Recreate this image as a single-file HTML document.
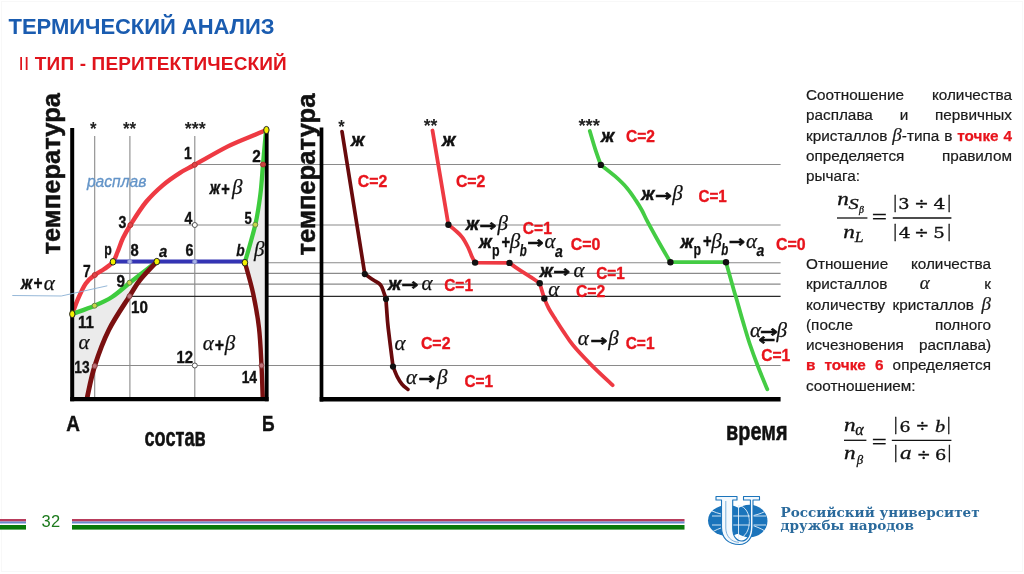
<!DOCTYPE html>
<html lang="ru">
<head>
<meta charset="utf-8">
<title>Термический анализ</title>
<style>
html,body{margin:0;padding:0;background:#fff;}
body{width:1024px;height:574px;position:relative;overflow:hidden;font-family:"Liberation Sans","DejaVu Sans",sans-serif;}
#slide{position:absolute;left:0;top:0;width:1024px;height:574px;}
svg text{font-family:"Liberation Sans","DejaVu Sans",sans-serif;}

svg .ax{font-size:25.5px;font-weight:bold;fill:#111;stroke:#111;stroke-width:0.5px;}
svg .st{font-size:18.8px;font-weight:bold;fill:#222;}
svg .rasp{font-size:16px;font-style:italic;fill:#6394c8;stroke:#6394c8;stroke-width:0.3px;}
svg .n{font-size:16.5px;font-weight:bold;fill:#111;stroke:#111;stroke-width:0.35px;}
svg .nbi{font-size:16.2px;font-weight:bold;font-style:italic;fill:#111;stroke:#111;stroke-width:0.3px;}
svg .bi{font-size:17.5px;font-weight:bold;font-style:italic;fill:#111;stroke:#111;stroke-width:0.45px;}
svg .gi{font-family:"Liberation Serif","DejaVu Serif",serif;font-size:21px;font-style:italic;font-weight:normal;fill:#111;stroke:#111;stroke-width:0.25px;}
svg .arr{font-family:"DejaVu Sans","Liberation Sans",sans-serif;font-style:normal;font-weight:bold;font-size:16px;fill:#111;stroke:#111;stroke-width:0.6px;}
svg .arr2{font-family:"DejaVu Sans",sans-serif;font-style:normal;font-weight:bold;font-size:21px;fill:#111;}
svg .sub{font-size:17px;font-style:normal;font-weight:bold;fill:#111;stroke:#111;stroke-width:0.25px;}
svg .subi{font-size:16px;font-style:italic;font-weight:bold;fill:#111;stroke:#111;stroke-width:0.25px;}
svg .c{font-size:16.3px;font-weight:bold;fill:#e8141c;stroke:#e8141c;stroke-width:0.35px;}
svg .big{font-size:21.5px;font-weight:bold;fill:#111;stroke:#111;stroke-width:0.4px;}
svg .sost{font-size:25.5px;font-weight:bold;fill:#111;stroke:#111;stroke-width:0.5px;}
svg .fi{font-family:"Liberation Serif","DejaVu Serif",serif;font-style:italic;fill:#111;}
svg .fr{font-family:"Liberation Serif","DejaVu Serif",serif;fill:#111;}
.t1{position:absolute;left:8.6px;top:15.5px;font-size:22px;line-height:22px;font-weight:bold;color:#1a5cb0;white-space:nowrap;letter-spacing:-0.05px;}
.t2{position:absolute;left:18.5px;top:54px;font-size:19px;line-height:19px;font-weight:bold;color:#e0141c;white-space:nowrap;letter-spacing:0.16px;}
.t2 span{font-weight:normal;}
.rt{position:absolute;left:806px;width:185px;font-size:15.3px;line-height:20.3px;color:#1a1a1a;text-align:justify;-webkit-text-stroke:0.2px #1a1a1a;}
.rt b{color:#e8141c;-webkit-text-stroke:0.25px #e8141c;}
.rt i{font-family:"Liberation Serif","DejaVu Serif",serif;font-size:19px;line-height:10px;-webkit-text-stroke:0.2px #1a1a1a;}
.ln{height:20.3px;white-space:nowrap;text-align:justify;text-align-last:justify;}
.ln.last{text-align-last:left;}
.ru{position:absolute;left:780.5px;top:506.2px;font-family:"DejaVu Serif","Liberation Serif",serif;font-weight:bold;font-size:13.6px;line-height:13.2px;color:#2a6a9c;white-space:nowrap;}
.pg{position:absolute;left:41.5px;top:511.7px;font-size:16.5px;line-height:19px;letter-spacing:0.3px;color:#1d7a1d;}
</style>
</head>
<body>
<div id="slide">
<div id="frame" style="position:absolute;left:1px;top:1px;width:1020px;height:569px;border:1px solid #f8f8f8;"></div>
<svg id="art" width="1024" height="574" viewBox="0 0 1024 574" style="position:absolute;left:0;top:0">
<!-- GRID -->
<g id="grid" stroke="#8a8a8a" stroke-width="1.1" fill="none">
<line x1="94.7" y1="136" x2="94.7" y2="398"/>
<line x1="129.9" y1="136" x2="129.9" y2="398"/>
<line x1="194.8" y1="136" x2="194.8" y2="398"/>
<line x1="194" y1="164.5" x2="780.6" y2="164.5"/>
<line x1="130" y1="225.0" x2="780.6" y2="225.0"/>
<line x1="113" y1="262.8" x2="780.6" y2="262.8"/>
<line x1="95" y1="273.4" x2="780.6" y2="273.4"/>
<line x1="130" y1="284.1" x2="780.6" y2="284.1"/>
<line x1="130" y1="296.4" x2="780.6" y2="296.4" stroke="#2a2a2a" stroke-width="1.3"/>
<line x1="95" y1="365.5" x2="780.6" y2="365.5"/>
</g>
<!-- LEFT DIAGRAM -->
<g id="phase" fill="none" stroke-linecap="round" stroke-linejoin="round">
<path d="M72.3 314.0 C76.0 312.6 88.0 308.5 94.6 305.7 C101.2 302.9 106.2 300.8 112.0 297.0 C117.8 293.2 124.8 286.7 129.5 283.0 C134.2 279.3 135.4 278.4 140.0 274.8 C144.6 271.2 154.0 263.8 156.8 261.6 C154.0 264.7 144.6 274.2 140.0 280.0 C135.4 285.8 134.7 287.9 129.5 296.2 C124.3 304.5 114.6 318.4 108.8 330.0 C103.0 341.6 98.3 354.8 94.7 366.0 C91.1 377.2 88.5 391.8 87.3 397.0 L72.3 397.5 Z" fill="#ebebeb" stroke="none"/>
<path d="M266.0 131.0 C265.5 136.6 263.9 153.8 263.0 164.5 C262.1 175.2 261.6 185.0 260.3 195.0 C259.0 205.0 257.9 213.4 255.3 224.7 C252.7 235.9 246.6 256.2 244.9 262.5 C246.3 267.7 250.8 282.8 253.2 293.7 C255.5 304.6 257.6 316.0 259.0 328.0 C260.4 340.0 260.9 354.0 261.5 365.5 C262.1 377.0 262.5 391.8 262.7 397.0 L266.7 397.5 L266.7 131 Z" fill="#ebebeb" stroke="none"/>
<path d="M72.3 314.0 C73.2 311.5 75.8 303.9 78.0 298.8 C80.2 293.7 83.0 287.4 85.8 283.4 C88.6 279.4 91.7 277.4 94.8 275.0 C97.9 272.6 101.6 271.0 104.6 268.8 C107.6 266.6 110.8 264.6 113.0 261.8 C115.2 259.0 115.8 256.0 117.5 252.0 C119.2 248.0 120.8 242.5 123.0 238.0 C125.2 233.5 126.6 231.0 130.4 225.0 C134.2 219.0 140.6 208.6 146.0 202.0 C151.4 195.4 157.0 190.2 162.7 185.3 C168.4 180.4 174.7 176.2 180.0 172.8 C185.3 169.4 186.7 169.2 194.7 164.8 C202.7 160.4 217.7 151.5 227.9 146.4 C238.1 141.3 249.4 137.2 255.7 134.5 C262.0 131.8 263.9 131.2 265.5 130.5" stroke="#ee3a43" stroke-width="4.4"/>
<path d="M266.0 131.0 C265.5 136.6 263.9 153.8 263.0 164.5 C262.1 175.2 261.6 185.0 260.3 195.0 C259.0 205.0 257.9 213.4 255.3 224.7 C252.7 235.9 246.6 256.2 244.9 262.5" stroke="#3dcc3d" stroke-width="4.3"/>
<path d="M72.3 314.0 C76.0 312.6 88.0 308.5 94.6 305.7 C101.2 302.9 106.2 300.8 112.0 297.0 C117.8 293.2 124.8 286.7 129.5 283.0 C134.2 279.3 135.4 278.4 140.0 274.8 C144.6 271.2 154.0 263.8 156.8 261.6" stroke="#3dcc3d" stroke-width="4.4"/>
<path d="M113 261.6 L244.9 261.6" stroke="#3434b4" stroke-width="4"/>
<path d="M156.8 261.6 C154.0 264.7 144.6 274.2 140.0 280.0 C135.4 285.8 134.7 287.9 129.5 296.2 C124.3 304.5 114.6 318.4 108.8 330.0 C103.0 341.6 98.3 354.8 94.7 366.0 C91.1 377.2 88.5 391.8 87.3 397.0" stroke="#7a1010" stroke-width="4.8"/>
<path d="M244.9 262.5 C246.3 267.7 250.8 282.8 253.2 293.7 C255.5 304.6 257.6 316.0 259.0 328.0 C260.4 340.0 260.9 354.0 261.5 365.5 C262.1 377.0 262.5 391.8 262.7 397.0" stroke="#7a1010" stroke-width="4.4"/>
</g>
<g id="axesL" stroke="#000" fill="none">
<line x1="72.2" y1="128" x2="72.2" y2="401.3" stroke-width="4"/>
<line x1="70.2" y1="399.2" x2="268.6" y2="399.2" stroke-width="4.2"/>
<line x1="266.7" y1="130" x2="266.7" y2="401.3" stroke-width="3.8"/>
</g>
<g id="ptsL" stroke="#222" stroke-width="1">
<ellipse cx="266.4" cy="130" rx="2.7" ry="3.6" fill="#f2f000"/>
<ellipse cx="113" cy="261.8" rx="2.8" ry="3.3" fill="#f2f000"/>
<ellipse cx="156.8" cy="261.6" rx="2.8" ry="3.3" fill="#f2f000"/>
<ellipse cx="244.9" cy="262.7" rx="2.8" ry="3.3" fill="#f2f000"/>
<ellipse cx="72.3" cy="314.1" rx="2.7" ry="3.5" fill="#f2f000"/>
<circle cx="194.7" cy="164.8" r="2.5" fill="#e0454a" stroke="#b33"/>
<circle cx="263" cy="164.5" r="2.5" fill="#c8443c" stroke="#a33"/>
<circle cx="130.4" cy="225" r="2.5" fill="#e0454a" stroke="#b33"/>
<circle cx="194.8" cy="225" r="2.5" fill="#fff" stroke="#555"/>
<circle cx="255.3" cy="224.7" r="2.5" fill="#c4d84a" stroke="#684"/>
<circle cx="129.8" cy="261.7" r="2.2" fill="#aab4e8" stroke="#8890c8"/>
<circle cx="194.8" cy="261.7" r="2.2" fill="#aab4e8" stroke="#8890c8"/>
<circle cx="94.8" cy="275" r="2.5" fill="#e0454a" stroke="#b33"/>
<circle cx="129.5" cy="282.7" r="2.5" fill="#c4d84a" stroke="#684"/>
<circle cx="129.5" cy="296.2" r="2.5" fill="#c07078" stroke="#844"/>
<circle cx="94.6" cy="305.7" r="2.5" fill="#c4d84a" stroke="#684"/>
<circle cx="94.7" cy="366" r="2.5" fill="#c07078" stroke="#844"/>
<circle cx="194.8" cy="365.5" r="2.5" fill="#fff" stroke="#555"/>
<circle cx="261.5" cy="365.5" r="2.5" fill="#c07078" stroke="#844"/>
</g>
<!-- RIGHT CHART -->
<g id="axesR" stroke="#000" fill="none">
<line x1="321.5" y1="127.5" x2="321.5" y2="401.5" stroke-width="3.7"/>
<line x1="319.7" y1="399.2" x2="780.6" y2="399.2" stroke-width="4.6"/>
</g>
<g id="curves" fill="none" stroke-linecap="round" stroke-linejoin="round">
<path d="M342 131.5 L364.8 274.1 C366.2 275.1 370.8 278.2 373.4 280.0 C376.0 281.8 378.7 282.8 380.4 284.8 C382.1 286.8 382.7 289.4 383.6 291.8 C384.5 294.2 385.6 297.8 386.0 299.0 C386.1 300.6 386.2 303.7 386.6 308.5 C387.0 313.3 387.1 318.3 388.2 328.0 C389.3 337.7 392.2 360.1 393.0 366.5 C393.7 368.2 395.7 373.7 397.2 376.6 C398.7 379.6 400.2 382.1 402.0 384.2 C403.8 386.3 406.9 388.5 407.9 389.4" stroke="#680a0c" stroke-width="3.7"/>
<path d="M432.5 130.5 L448.4 224.8 C449.5 225.7 453.0 228.2 455.3 230.3 C457.6 232.4 460.2 234.5 462.3 237.3 C464.4 240.1 466.3 243.8 467.9 247.0 C469.5 250.2 470.8 254.2 472.0 256.8 C473.2 259.4 474.6 261.6 475.1 262.6 L509.5 262.9 C511.4 264.2 517.1 268.4 520.9 270.9 C524.6 273.4 528.9 275.8 532.0 277.9 C535.1 279.9 538.4 282.3 539.7 283.2 L544.3 298.5 C545.0 300.2 546.9 305.0 548.8 308.5 C550.7 312.0 553.3 315.9 555.7 319.7 C558.1 323.5 560.2 326.9 563.1 331.1 C566.0 335.3 568.2 339.4 572.9 345.0 C577.5 350.6 584.4 357.9 591.0 364.6 C597.6 371.3 609.0 381.8 612.6 385.2" stroke="#ee3a43" stroke-width="3.8"/>
<path d="M589.8 131.0 C590.7 133.9 593.2 142.7 595.0 148.3 C596.8 154.0 599.8 162.1 600.8 164.9 C603.2 166.8 610.6 172.3 615.0 176.2 C619.4 180.1 623.8 184.3 627.3 188.4 C630.8 192.5 633.5 196.9 636.0 200.6 C638.5 204.3 640.1 207.0 642.0 210.5 C643.9 214.0 644.8 216.4 647.4 221.4 C650.0 226.4 654.1 233.7 657.9 240.5 C661.7 247.3 668.3 258.6 670.4 262.2 L726 262.2 C727.3 266.8 732.0 283.7 733.8 290.0 C735.6 296.3 735.3 294.8 736.8 300.0 C738.3 305.2 740.7 314.1 742.9 321.4 C745.1 328.7 747.3 336.6 749.8 344.0 C752.3 351.4 754.8 358.2 757.7 365.8 C760.6 373.4 765.7 385.4 767.3 389.3" stroke="#44cc44" stroke-width="3.8"/>
</g>
<g id="ptsR" fill="#111" stroke="none">
<circle cx="364.8" cy="274.1" r="3.1"/><circle cx="386" cy="299" r="3.1"/><circle cx="393" cy="366.5" r="3.1"/>
<circle cx="448.4" cy="224.8" r="3.2"/><circle cx="475.1" cy="262.6" r="3.2"/><circle cx="509.5" cy="262.9" r="3.2"/><circle cx="539.7" cy="283.2" r="3.2"/><circle cx="544.3" cy="298.5" r="3.2"/>
<circle cx="600.8" cy="164.9" r="3.2"/><circle cx="670.4" cy="262.2" r="3.2"/><circle cx="726" cy="262.2" r="3.2"/>
</g>
<!-- LABELS LEFT -->
<g id="lblL">
<text class="ax" transform="translate(60.3,254.5) rotate(-90)" textLength="161.5" lengthAdjust="spacingAndGlyphs">температура</text>
<text class="ax" transform="translate(315.4,255.5) rotate(-90)" textLength="162" lengthAdjust="spacingAndGlyphs">температура</text>
<text x="89.95" y="135.20" class="st" textLength="6.57" lengthAdjust="spacingAndGlyphs">*</text>
<text x="122.95" y="135.20" class="st" textLength="13.27" lengthAdjust="spacingAndGlyphs">**</text>
<text x="184.75" y="135.20" class="st" textLength="20.97" lengthAdjust="spacingAndGlyphs">***</text>
<text x="86.89" y="187.00" class="rasp" textLength="59.58" lengthAdjust="spacingAndGlyphs">расплав</text>
<text x="183.92" y="158.80" class="n" textLength="7.77" lengthAdjust="spacingAndGlyphs">1</text>
<text x="252.27" y="161.70" class="n" textLength="8.55" lengthAdjust="spacingAndGlyphs">2</text>
<text x="118.48" y="227.60" class="n" textLength="7.83" lengthAdjust="spacingAndGlyphs">3</text>
<text x="184.49" y="224.00" class="n" textLength="7.79" lengthAdjust="spacingAndGlyphs">4</text>
<text x="244.40" y="224.20" class="n" textLength="7.27" lengthAdjust="spacingAndGlyphs">5</text>
<text x="185.48" y="256.40" class="n" textLength="7.94" lengthAdjust="spacingAndGlyphs">6</text>
<text x="83.10" y="276.50" class="n" textLength="7.70" lengthAdjust="spacingAndGlyphs">7</text>
<text x="130.43" y="256.40" class="n" textLength="8.22" lengthAdjust="spacingAndGlyphs">8</text>
<text x="116.47" y="287.00" class="n" textLength="8.50" lengthAdjust="spacingAndGlyphs">9</text>
<text x="131.04" y="313.20" class="n" textLength="16.88" lengthAdjust="spacingAndGlyphs">10</text>
<text x="77.90" y="327.80" class="n" textLength="15.90" lengthAdjust="spacingAndGlyphs">11</text>
<text x="176.56" y="362.70" class="n" textLength="16.53" lengthAdjust="spacingAndGlyphs">12</text>
<text x="74.34" y="372.80" class="n" textLength="15.26" lengthAdjust="spacingAndGlyphs">13</text>
<text x="241.63" y="383.00" class="n" textLength="15.45" lengthAdjust="spacingAndGlyphs">14</text>
<text x="104.19" y="255.10" class="n" textLength="7.52" lengthAdjust="spacingAndGlyphs">p</text>
<text x="158.93" y="256.60" class="nbi" textLength="8.31" lengthAdjust="spacingAndGlyphs">a</text>
<text x="236.26" y="256.00" class="nbi" textLength="8.43" lengthAdjust="spacingAndGlyphs">b</text>
<text x="254.04" y="256.00" class="gi">β</text>
<text x="78.57" y="348.60" class="gi">α</text>
<text x="209.83" y="194.30" class="bi" textLength="10.29" lengthAdjust="spacingAndGlyphs">ж</text>
<text x="221.01" y="194.80" class="bi" textLength="8.50" lengthAdjust="spacingAndGlyphs">+</text>
<text x="231.94" y="194.30" class="gi">β</text>
<text x="202.67" y="350.00" class="gi">α</text>
<text x="214.54" y="351.30" class="bi" textLength="9.20" lengthAdjust="spacingAndGlyphs">+</text>
<text x="224.74" y="350.00" class="gi">β</text>
<text x="20.89" y="288.60" class="bi" textLength="11.27" lengthAdjust="spacingAndGlyphs">ж</text>
<text x="33.16" y="289.30" class="bi" textLength="8.97" lengthAdjust="spacingAndGlyphs">+</text>
<text x="43.66" y="289.50" class="gi">α</text>
<polyline points="12.3,295.5 61.3,296 107.3,285.8" fill="none" stroke="#8ab0d4" stroke-width="0.9"/>
<text x="66.13" y="431.00" class="big" textLength="13.67" lengthAdjust="spacingAndGlyphs">А</text>
<text x="262.03" y="431.00" class="big" textLength="12.60" lengthAdjust="spacingAndGlyphs">Б</text>
<text x="144.49" y="446.40" class="sost" textLength="61.21" lengthAdjust="spacingAndGlyphs">состав</text>
</g>
<!-- LABELS RIGHT -->
<g id="lblR">
<text x="338.15" y="132.60" class="st" textLength="6.46" lengthAdjust="spacingAndGlyphs">*</text>
<text x="423.65" y="132.00" class="st" textLength="13.77" lengthAdjust="spacingAndGlyphs">**</text>
<text x="578.45" y="131.60" class="st" textLength="21.57" lengthAdjust="spacingAndGlyphs">***</text>
<text x="351.0" y="146.0" class="bi" textLength="13.5" lengthAdjust="spacingAndGlyphs">ж</text>
<text x="442.0" y="146.0" class="bi" textLength="13.5" lengthAdjust="spacingAndGlyphs">ж</text>
<text x="601.0" y="142.2" class="bi" textLength="13.3" lengthAdjust="spacingAndGlyphs">ж</text>
<text x="357.8" y="186.8" class="c" textLength="29.5" lengthAdjust="spacingAndGlyphs">C=2</text>
<text x="455.9" y="186.8" class="c" textLength="29.5" lengthAdjust="spacingAndGlyphs">C=2</text>
<text x="522.8" y="234.0" class="c" textLength="29" lengthAdjust="spacingAndGlyphs">C=1</text>
<text x="570.7" y="249.7" class="c" textLength="29.7" lengthAdjust="spacingAndGlyphs">C=0</text>
<text x="596.3" y="279.0" class="c" textLength="28.5" lengthAdjust="spacingAndGlyphs">C=1</text>
<text x="576.0" y="297.0" class="c" textLength="29.3" lengthAdjust="spacingAndGlyphs">C=2</text>
<text x="625.7" y="348.6" class="c" textLength="28.8" lengthAdjust="spacingAndGlyphs">C=1</text>
<text x="444.2" y="291.4" class="c" textLength="28.8" lengthAdjust="spacingAndGlyphs">C=1</text>
<text x="420.9" y="349.0" class="c" textLength="29.6" lengthAdjust="spacingAndGlyphs">C=2</text>
<text x="464.5" y="387.0" class="c" textLength="28.6" lengthAdjust="spacingAndGlyphs">C=1</text>
<text x="626.0" y="142.2" class="c" textLength="29" lengthAdjust="spacingAndGlyphs">C=2</text>
<text x="698.5" y="202.2" class="c" textLength="28.3" lengthAdjust="spacingAndGlyphs">C=1</text>
<text x="776.0" y="250.2" class="c" textLength="29.6" lengthAdjust="spacingAndGlyphs">C=0</text>
<text x="761.2" y="360.6" class="c" textLength="29" lengthAdjust="spacingAndGlyphs">C=1</text>
<text x="465.8" y="230.3" class="bi" textLength="13.2" lengthAdjust="spacingAndGlyphs">ж</text>
<text x="479.4" y="231.1" class="arr" textLength="16.83" lengthAdjust="spacingAndGlyphs">→</text>
<text x="497.5" y="230.3" class="gi">β</text>
<text x="539.7" y="276.5" class="bi" textLength="13.2" lengthAdjust="spacingAndGlyphs">ж</text>
<text x="553.3" y="277.3" class="arr" textLength="16.83" lengthAdjust="spacingAndGlyphs">→</text>
<text x="573.5" y="276.5" class="gi">α</text>
<text x="388.0" y="289.5" class="bi" textLength="13.2" lengthAdjust="spacingAndGlyphs">ж</text>
<text x="401.6" y="290.3" class="arr" textLength="16.83" lengthAdjust="spacingAndGlyphs">→</text>
<text x="421.5" y="289.5" class="gi">α</text>
<text x="641.3" y="199.8" class="bi" textLength="13.2" lengthAdjust="spacingAndGlyphs">ж</text>
<text x="654.9" y="200.6" class="arr" textLength="16.83" lengthAdjust="spacingAndGlyphs">→</text>
<text x="672.2" y="199.8" class="gi">β</text>
<text x="577.8" y="345.0" class="gi">α</text>
<text x="590.5" y="345.8" class="arr" textLength="16.83" lengthAdjust="spacingAndGlyphs">→</text>
<text x="608.3" y="345.0" class="gi">β</text>
<text x="405.9" y="383.5" class="gi">α</text>
<text x="418.6" y="384.3" class="arr" textLength="16.83" lengthAdjust="spacingAndGlyphs">→</text>
<text x="436.9" y="383.5" class="gi">β</text>
<text x="548.2" y="296.0" class="gi">α</text>
<text x="394.6" y="349.8" class="gi">α</text>
<text x="479.0" y="248.4" class="bi" textLength="12.8" lengthAdjust="spacingAndGlyphs">ж</text>
<text x="492.1" y="255.7" class="sub" textLength="7.6" lengthAdjust="spacingAndGlyphs">р</text>
<text x="501.3" y="247.9" class="bi" textLength="8.6" lengthAdjust="spacingAndGlyphs">+</text>
<text x="509.8" y="248.4" class="gi">β</text>
<text x="519.8" y="255.7" class="subi" textLength="7" lengthAdjust="spacingAndGlyphs">b</text>
<text x="527.2" y="248.2" class="arr" textLength="16.26" lengthAdjust="spacingAndGlyphs">→</text>
<text x="544.4" y="248.4" class="gi">α</text>
<text x="555.0" y="256.7" class="subi" textLength="7.8" lengthAdjust="spacingAndGlyphs">a</text>
<text x="680.5" y="247.6" class="bi" textLength="12.8" lengthAdjust="spacingAndGlyphs">ж</text>
<text x="693.6" y="254.9" class="sub" textLength="7.6" lengthAdjust="spacingAndGlyphs">р</text>
<text x="702.8" y="247.1" class="bi" textLength="8.6" lengthAdjust="spacingAndGlyphs">+</text>
<text x="711.3" y="247.6" class="gi">β</text>
<text x="721.3" y="254.9" class="subi" textLength="7" lengthAdjust="spacingAndGlyphs">b</text>
<text x="728.7" y="247.4" class="arr" textLength="16.26" lengthAdjust="spacingAndGlyphs">→</text>
<text x="745.9" y="247.6" class="gi">α</text>
<text x="756.5" y="255.9" class="subi" textLength="7.8" lengthAdjust="spacingAndGlyphs">a</text>
<text x="750.1" y="337.0" class="gi">α</text>
<text x="760.0" y="336.8" class="arr" textLength="17.86" lengthAdjust="spacingAndGlyphs">→</text>

<text x="758.3" y="344.7" class="arr" textLength="16.89" lengthAdjust="spacingAndGlyphs">←</text>
<text x="776.4" y="337.0" class="gi">β</text>
<text x="726.12" y="440.20" class="sost" textLength="61.36" lengthAdjust="spacingAndGlyphs">время</text>
</g>
<!-- FORMULAS -->
<g id="formulas" fill="#111" stroke="#111" stroke-width="0.3">
<text x="837.17" y="205.40" style='font-family:"Liberation Serif","DejaVu Serif",serif;font-style:italic;font-size:18.7px;' textLength="11.59" lengthAdjust="spacingAndGlyphs">n</text>
<text x="848.56" y="209.30" style='font-family:"Liberation Serif","DejaVu Serif",serif;font-style:italic;font-size:14.6px;' textLength="10.17" lengthAdjust="spacingAndGlyphs">S</text>
<text x="858.96" y="213.10" style='font-family:"Liberation Serif","DejaVu Serif",serif;font-style:italic;font-size:9.8px;'>β</text>
<line x1="837" y1="218" x2="867.4" y2="218" stroke-width="1.3"/>
<text x="843.17" y="237.60" style='font-family:"Liberation Serif","DejaVu Serif",serif;font-style:italic;font-size:18.7px;' textLength="11.59" lengthAdjust="spacingAndGlyphs">n</text>
<text x="854.88" y="242.10" style='font-family:"Liberation Serif","DejaVu Serif",serif;font-style:italic;font-size:14.9px;' textLength="8.76" lengthAdjust="spacingAndGlyphs">L</text>
<text x="871.85" y="224.30" style='font-family:"Liberation Serif","DejaVu Serif",serif;font-size:22px;' textLength="15.27" lengthAdjust="spacingAndGlyphs">=</text>
<line x1="892.8" y1="218" x2="951.4" y2="218" stroke-width="1.3"/>
<text x="893.25" y="208.00" style='font-family:"Liberation Serif","DejaVu Serif",serif;font-size:19.3px;'>|</text>
<text x="947.35" y="208.00" style='font-family:"Liberation Serif","DejaVu Serif",serif;font-size:19.3px;'>|</text>
<text x="898.25" y="209.30" style='font-family:"DejaVu Serif","Liberation Serif",serif;font-size:14.4px;' textLength="11.26" lengthAdjust="spacingAndGlyphs">3</text>
<text x="914.37" y="209.40" style='font-family:"DejaVu Serif","Liberation Serif",serif;font-size:16px;' textLength="14.46" lengthAdjust="spacingAndGlyphs">÷</text>
<text x="933.42" y="209.30" style='font-family:"DejaVu Serif","Liberation Serif",serif;font-size:14.4px;' textLength="11.92" lengthAdjust="spacingAndGlyphs">4</text>
<text x="893.25" y="236.80" style='font-family:"Liberation Serif","DejaVu Serif",serif;font-size:19.3px;'>|</text>
<text x="947.35" y="236.80" style='font-family:"Liberation Serif","DejaVu Serif",serif;font-size:19.3px;'>|</text>
<text x="898.82" y="237.60" style='font-family:"DejaVu Serif","Liberation Serif",serif;font-size:14.4px;' textLength="11.92" lengthAdjust="spacingAndGlyphs">4</text>
<text x="914.37" y="237.70" style='font-family:"DejaVu Serif","Liberation Serif",serif;font-size:16px;' textLength="14.46" lengthAdjust="spacingAndGlyphs">÷</text>
<text x="933.26" y="237.60" style='font-family:"DejaVu Serif","Liberation Serif",serif;font-size:14.4px;' textLength="11.54" lengthAdjust="spacingAndGlyphs">5</text>
<text x="844.07" y="431.10" style='font-family:"Liberation Serif","DejaVu Serif",serif;font-style:italic;font-size:18.7px;' textLength="11.59" lengthAdjust="spacingAndGlyphs">n</text>
<text x="855.22" y="434.80" style='font-family:"Liberation Serif","DejaVu Serif",serif;font-style:italic;font-size:16px;'>α</text>
<line x1="844" y1="440.3" x2="866.4" y2="440.3" stroke-width="1.3"/>
<text x="844.07" y="458.50" style='font-family:"Liberation Serif","DejaVu Serif",serif;font-style:italic;font-size:18.7px;' textLength="11.59" lengthAdjust="spacingAndGlyphs">n</text>
<text x="856.81" y="463.60" style='font-family:"Liberation Serif","DejaVu Serif",serif;font-style:italic;font-size:12.8px;'>β</text>
<text x="871.87" y="448.60" style='font-family:"Liberation Serif","DejaVu Serif",serif;font-size:22px;' textLength="15.03" lengthAdjust="spacingAndGlyphs">=</text>
<line x1="891.8" y1="440.3" x2="951.4" y2="440.3" stroke-width="1.3"/>
<text x="893.75" y="429.80" style='font-family:"Liberation Serif","DejaVu Serif",serif;font-size:19.3px;'>|</text>
<text x="946.85" y="429.80" style='font-family:"Liberation Serif","DejaVu Serif",serif;font-size:19.3px;'>|</text>
<text x="899.44" y="431.50" style='font-family:"DejaVu Serif","Liberation Serif",serif;font-size:14.4px;' textLength="11.06" lengthAdjust="spacingAndGlyphs">6</text>
<text x="915.47" y="431.30" style='font-family:"DejaVu Serif","Liberation Serif",serif;font-size:16px;' textLength="13.65" lengthAdjust="spacingAndGlyphs">÷</text>
<text x="934.95" y="431.50" style='font-family:"Liberation Serif","DejaVu Serif",serif;font-style:italic;font-size:17.2px;' textLength="10.17" lengthAdjust="spacingAndGlyphs">b</text>
<text x="893.75" y="458.20" style='font-family:"Liberation Serif","DejaVu Serif",serif;font-size:19.3px;'>|</text>
<text x="947.45" y="458.20" style='font-family:"Liberation Serif","DejaVu Serif",serif;font-size:19.3px;'>|</text>
<text x="899.91" y="459.30" style='font-family:"Liberation Serif","DejaVu Serif",serif;font-style:italic;font-size:19px;' textLength="11.56" lengthAdjust="spacingAndGlyphs">a</text>
<text x="916.84" y="459.60" style='font-family:"DejaVu Serif","Liberation Serif",serif;font-size:16px;' textLength="13.92" lengthAdjust="spacingAndGlyphs">÷</text>
<text x="935.11" y="459.50" style='font-family:"DejaVu Serif","Liberation Serif",serif;font-size:14.4px;' textLength="11.31" lengthAdjust="spacingAndGlyphs">6</text>
</g>
<!-- LOGO -->
<g id="logo">
<ellipse cx="727.5" cy="520.5" rx="19.5" ry="15.5" fill="#1b74bb"/>
<ellipse cx="749.5" cy="521" rx="18" ry="16.2" fill="#1b74bb"/>
<g stroke="#e8f2fa" stroke-width="0.9" fill="none">
<path d="M712 516 H766"/><path d="M712 525 H766"/>
<path d="M738.5 505 V539"/>
<path d="M738.5 505.5 C753 507 753 536 738.5 538.5"/>
<path d="M712 511 C718 513.5 724 515 731 516"/><path d="M713 531.5 C719 528.5 724 526.5 731 525"/>
<path d="M765 511.5 C760 514 756 515 751 516"/><path d="M765 531 C760 528 756 526.5 751 525"/>
</g>
<path d="M716 496.5 H737 V500 H732.7 V528 C732.7 536.5 736.5 541 741.5 541 C746.5 541 750.4 536 750.4 527 V500 H743.5 V496.5 H759.5 V500 H753 V527 C753 538 747 544.5 739.5 544.5 C728 544.5 721.5 538 721.5 527 V500 H716 Z" fill="#f4f9fd" stroke="#1b74bb" stroke-width="1.1" stroke-linejoin="round"/>
<path d="M725.8 501 V528 C725.8 536 731 542 739 542.3" fill="none" stroke="#4a90cc" stroke-width="0.7"/>
</g>
<!-- FOOTER -->
<g id="footer">
<rect x="0" y="519" width="26" height="2.5" fill="#b83c5c"/><rect x="0" y="521.5" width="26" height="2" fill="#6a8ccc"/><rect x="0" y="525" width="26" height="4.6" fill="#0a7a0a"/>
<rect x="72" y="519" width="612.5" height="2.5" fill="#b83c5c"/><rect x="72" y="521.5" width="612.5" height="2" fill="#6a8ccc"/><rect x="72" y="525" width="612.5" height="4.6" fill="#0a7a0a"/>
</g>
</svg>
<div class="t1">ТЕРМИЧЕСКИЙ АНАЛИЗ</div>
<div class="t2"><span>II</span> ТИП - ПЕРИТЕКТИЧЕСКИЙ</div>
<div class="rt" style="left:806px;top:85px;width:206px;">
<div class="ln">Соотношение количества</div>
<div class="ln">расплава и первичных</div>
<div class="ln">кристаллов <i>β</i>-типа в <b>точке 4</b></div>
<div class="ln">определяется правилом</div>
<div class="ln last">рычага:</div>
</div>
<div class="rt" style="left:806px;top:254px;width:185px;">
<div class="ln">Отношение количества</div>
<div class="ln" style="display:flex;justify-content:space-between;"><span>кристаллов</span><span style="margin-right:22px"><i>α</i></span><span>к</span></div>
<div class="ln">количеству кристаллов <i>β</i></div>
<div class="ln">(после полного</div>
<div class="ln">исчезновения расплава)</div>
<div class="ln"><b>в точке 6</b> определяется</div>
<div class="ln last">соотношением:</div>
</div>
<div class="pg">32</div>
<div class="ru">Российский университет<br>дружбы народов</div>
</div>
</body>
</html>
